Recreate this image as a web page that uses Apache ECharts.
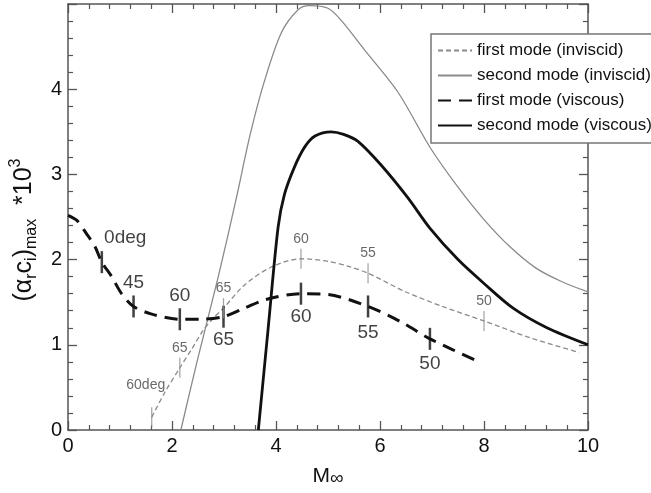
<!DOCTYPE html>
<html>
<head>
<meta charset="utf-8">
<script src="https://cdn.jsdelivr.net/npm/echarts@6/dist/echarts.min.js"></script>
<style>
html,body{margin:0;padding:0;background:#fff}
#main{width:651px;height:493px}
</style>
</head>
<body>
<div id="main"></div>
<script>
// curves: [M_inf, (alpha_r c_i)_max * 10^3]
var firstInviscid = [[1.61,0.15],[1.86,0.44],[2.15,0.73],[2.38,0.95],[2.6,1.17],[2.82,1.33],[2.99,1.43],[3.39,1.70],[3.9,1.91],[4.48,2.01],[5.0,1.98],[5.4,1.92],[5.77,1.84],[6.5,1.62],[7.2,1.45],[8.0,1.28],[8.9,1.08],[9.83,0.91]];
var secondInviscid = [[2.17,0],[2.5,0.85],[2.89,1.80],[3.24,2.73],[3.5,3.46],[3.77,4.08],[4.10,4.66],[4.42,4.93],[4.64,4.98],[5.0,4.95],[5.25,4.81],[5.69,4.47],[6.34,3.97],[6.97,3.31],[7.5,2.85],[8.0,2.47],[8.5,2.15],[9.0,1.9],[9.5,1.74],[10,1.62]];
var firstViscous = [[0,2.52],[0.17,2.46],[0.36,2.30],[0.52,2.15],[0.65,1.97],[0.84,1.80],[1.03,1.60],[1.26,1.45],[1.61,1.36],[2.15,1.30],[2.57,1.30],[2.99,1.33],[3.39,1.43],[3.8,1.53],[4.48,1.60],[5.0,1.59],[5.77,1.45],[6.4,1.27],[6.96,1.07],[7.87,0.81]];
var secondViscous = [[3.66,0],[3.85,1.2],[4.04,2.38],[4.16,2.76],[4.35,3.08],[4.55,3.32],[4.75,3.45],[5.06,3.50],[5.3,3.47],[5.57,3.39],[6.02,3.11],[6.53,2.73],[6.97,2.36],[7.5,2.0],[8.0,1.72],[8.56,1.43],[9.21,1.20],[10,1.0]];

// angle marks on the first-mode curves
var viscousMarkX = [0.65,1.26,2.15,2.99,4.48,5.77,6.96];
var viscousMarkY = [1.97,1.45,1.30,1.33,1.60,1.45,1.07];
var viscousMarkText = ['0deg','45','60','65','60','55','50'];
var inviscidMarkX = [1.61,2.15,2.99,4.48,5.77,8.0];
var inviscidMarkY = [0.15,0.73,1.43,2.01,1.84,1.28];
var inviscidMarkText = ['60deg','65','65','60','55','50'];

var seriesNames = ['first mode (inviscid)','second mode (inviscid)','first mode (viscous)','second mode (viscous)'];

// where each mark label sits
var viscousLabelPlace = [['right',[-2,-24]],['top',[0,0]],['top',[0,0]],['bottom',[0,0]],['bottom',[0,0]],['bottom',[0,3]],['bottom',[0,1]]];
var inviscidLabelPlace = [['top',[-6,-12]],['top',[0,0]],['top',[0,0]],['top',[0,0]],['top',[0,0]],['top',[0,0]]];

var font = "'Liberation Sans', Arial, Helvetica, sans-serif";

function markData(xs, ys, texts, place, color, size) {
    return xs.map(function (x, i) {
        return {
            value: [x, ys[i]],
            label: {
                show: true, formatter: texts[i], position: place[i][0], offset: place[i][1],
                color: color, fontSize: size, fontFamily: font, distance: 3
            }
        };
    });
}

function axisX(pos, labels) {
    return {
        type: 'value', position: pos, min: 0, max: 10, interval: 2,
        name: labels ? '{m|M}{i|∞}' : '', nameLocation: 'middle', nameGap: 34,
        nameTextStyle: { rich: { m: { fontSize: 21, fontFamily: font, color: '#111' }, i: { fontSize: 19, fontFamily: font, color: '#111', verticalAlign: 'bottom', lineHeight: 24 } } },
        axisLine: { show: true, onZero: false, lineStyle: { color: '#555', width: 1.5 } },
        axisTick: { show: true, inside: true, length: 9, lineStyle: { color: '#555', width: 1.3 } },
        minorTick: { show: true, splitNumber: 5, length: 5, lineStyle: { color: '#555', width: 1.2 } },
        axisLabel: { show: labels, margin: 6, fontSize: 20, fontFamily: font, color: '#111' },
        splitLine: { show: false }
    };
}

function axisY(pos, labels) {
    return {
        type: 'value', position: pos, min: 0, max: 5, interval: 1,
        name: labels ? '{p|(α}{s|r}{p|c}{s|i}{p|)}{s|max}{p|  *10}{u|3}' : '',
        nameLocation: 'middle', nameGap: 24, nameRotate: 90,
        nameTextStyle: {
            padding: [0, 26, 0, 0],
            rich: {
                p: { fontSize: 25, fontFamily: font, color: '#111', lineHeight: 32, verticalAlign: 'middle' },
                s: { fontSize: 16, fontFamily: font, color: '#111', lineHeight: 16, verticalAlign: 'bottom' },
                u: { fontSize: 16, fontFamily: font, color: '#111', lineHeight: 16, verticalAlign: 'top' }
            }
        },
        axisLine: { show: true, onZero: false, lineStyle: { color: '#555', width: 1.5 } },
        axisTick: { show: true, inside: true, length: 9, lineStyle: { color: '#555', width: 1.3 } },
        minorTick: { show: true, splitNumber: 5, length: 5, lineStyle: { color: '#555', width: 1.2 } },
        axisLabel: { show: labels, margin: 6, fontSize: 20, fontFamily: font, color: '#111', showMaxLabel: false },
        splitLine: { show: false }
    };
}

var option = {
    animation: false,
    backgroundColor: '#fff',
    grid: { left: 66, right: 63, top: 4, bottom: 58 },
    xAxis: [axisX('bottom', true), axisX('top', false)],
    yAxis: [axisY('left', true), axisY('right', false)],
    legend: {
        data: seriesNames, orient: 'vertical', left: 431, top: 34,
        itemWidth: 34, itemHeight: 14, itemGap: 6,
        padding: [7, 40, 8, 6],
        backgroundColor: '#fff', borderColor: '#777', borderWidth: 1.5, borderRadius: 0,
        itemStyle: { opacity: 0 },
        textStyle: { fontSize: 17, fontFamily: font, color: '#111', lineHeight: 19 }
    },
    series: [
        { name: seriesNames[0], type: 'line', data: firstInviscid, smooth: 0.3, symbol: 'none',
          lineStyle: { color: '#8a8a8a', width: 1.3, type: [5, 3] }, itemStyle: { color: '#8a8a8a' } },
        { name: seriesNames[1], type: 'line', data: secondInviscid, smooth: 0.3, symbol: 'none',
          lineStyle: { color: '#8a8a8a', width: 1.3 }, itemStyle: { color: '#8a8a8a' } },
        { name: seriesNames[2], type: 'line', data: firstViscous, smooth: 0.3, symbol: 'none',
          lineStyle: { color: '#111', width: 3, type: [13, 8] }, itemStyle: { color: '#111' } },
        { name: seriesNames[3], type: 'line', data: secondViscous, smooth: 0.3, symbol: 'none',
          lineStyle: { color: '#111', width: 2.8 }, itemStyle: { color: '#111' } },
        // short vertical ticks with their angle labels
        { name: 'viscous marks', type: 'scatter', symbol: 'rect', symbolSize: [2.5, 22], z: 3,
          itemStyle: { color: '#111' },
          data: markData(viscousMarkX, viscousMarkY, viscousMarkText, viscousLabelPlace, '#111', 19) },
        { name: 'inviscid marks', type: 'scatter', symbol: 'rect', symbolSize: [1.2, 20], z: 3,
          itemStyle: { color: '#8a8a8a' },
          data: markData(inviscidMarkX, inviscidMarkY, inviscidMarkText, inviscidLabelPlace, '#444', 14) }
    ]
};

var chart = echarts.init(document.getElementById('main'));
chart.setOption(option);
</script>
</body>
</html>
